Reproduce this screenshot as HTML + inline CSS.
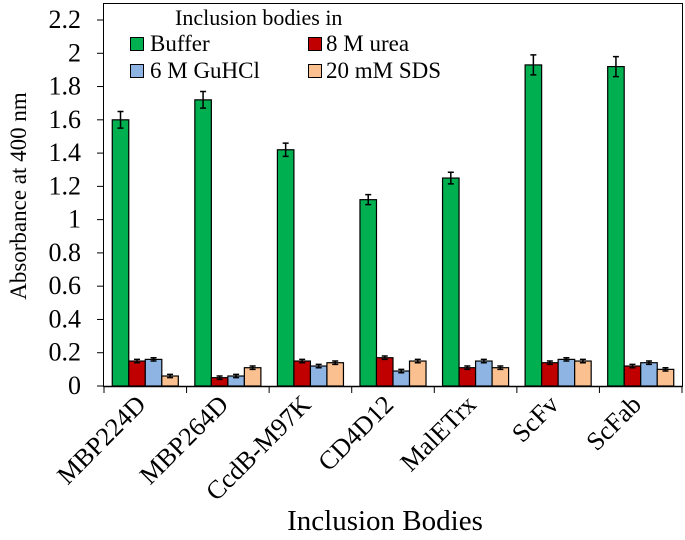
<!DOCTYPE html>
<html><head><meta charset="utf-8"><style>
body{margin:0;background:#fff}
svg text{font-family:"Liberation Serif",serif;fill:#000}
</style></head><body>
<svg id="chart" width="685" height="535" xmlns="http://www.w3.org/2000/svg">
<rect x="103.5" y="3.5" width="579" height="383" fill="none" stroke="#000" stroke-width="1"/>
<g id="bars"></g>
<g id="axes"></g>
<text transform="translate(26,196) rotate(-90)" text-anchor="middle" style="font-family:'Liberation Serif',serif;font-size:23px">Absorbance at 400 nm</text>
<text x="385" y="530" text-anchor="middle" style="font-family:'Liberation Serif',serif;font-size:29px">Inclusion Bodies</text>
<g style="font-family:'Liberation Serif',serif;font-size:23px">
<text x="175" y="25" style="font-family:'Liberation Serif',serif;font-size:22px">Inclusion bodies in</text>
<rect x="130.5" y="37.5" width="13" height="13" fill="#00b050" stroke="#000"/>
<text x="150" y="51" style="font-family:'Liberation Serif',serif;font-size:23px">Buffer</text>
<rect x="308.5" y="37.5" width="13" height="13" fill="#c00000" stroke="#000"/>
<text x="326" y="51" style="font-family:'Liberation Serif',serif;font-size:23px">8 M urea</text>
<rect x="130.5" y="64.5" width="13" height="13" fill="#8db4e2" stroke="#000"/>
<text x="150" y="78" style="font-family:'Liberation Serif',serif;font-size:23px">6 M GuHCl</text>
<rect x="308.5" y="64.5" width="13" height="13" fill="#fac090" stroke="#000"/>
<text x="326" y="78" style="font-family:'Liberation Serif',serif;font-size:23px">20 mM SDS</text>
</g>
</svg>
<script>
const categories=["MBP224D","MBP264D","CcdB-M97K","CD4D12","MalETrx","ScFv","ScFab"];
const buffer=[1.60,1.72,1.42,1.12,1.25,1.93,1.92];
const urea=[0.15,0.05,0.15,0.17,0.11,0.14,0.12];
const guhcl=[0.16,0.06,0.12,0.09,0.15,0.16,0.14];
const sds=[0.06,0.11,0.14,0.15,0.11,0.15,0.10];
const bufferErr=[0.05,0.05,0.04,0.03,0.035,0.06,0.06];
const smallErr=[0.01,0.01,0.01,0.01,0.01,0.01,0.01];
const yTicks=[0,0.2,0.4,0.6,0.8,1,1.2,1.4,1.6,1.8,2,2.2];
const yTickLabels=["0","0.2","0.4","0.6","0.8","1","1.2","1.4","1.6","1.8","2","2.2"];
const NS="http://www.w3.org/2000/svg";
const x0=104,x1=682,yb=386,yt=20,ymax=2.2;
const cw=(x1-x0)/categories.length;
const y=v=>yb-(v/ymax)*(yb-yt);
const xc=i=>x0+cw*(i+0.5);
const bars=document.getElementById('bars'),axes=document.getElementById('axes');
function mk(tag,attrs,parent){const e=document.createElementNS(NS,tag);for(const k in attrs)e.setAttribute(k,attrs[k]);parent.appendChild(e);return e;}
const series=[[buffer,"#00b050","buffer",bufferErr],[urea,"#c00000","urea",smallErr],[guhcl,"#8db4e2","guhcl",smallErr],[sds,"#fac090","sds",smallErr]];
const bw=cw*0.2;
categories.forEach((c,i)=>{
 series.forEach((s,j)=>{
  const v=s[0][i];const bx=x0+cw*0.1+j*bw+i*cw;
  const r=mk('rect',{x:bx,y:y(v),width:bw,height:yb-y(v),fill:s[1],stroke:'#000','stroke-width':1.2},bars);
  
  
  const e=s[3][i],cx=bx+bw/2;
  const l=mk('path',{d:`M${cx},${y(v+e)}V${y(v-e)}M${cx-3},${y(v+e)}H${cx+3}M${cx-3},${y(v-e)}H${cx+3}`,stroke:'#000','stroke-width':1.5,fill:'none'},bars);
  
  
 });
 const t=mk('text',{transform:`translate(${xc(i)+2},406) rotate(-45)`,'text-anchor':'end',style:"font-family:'Liberation Serif',serif;font-size:26px"},axes);
 t.textContent=c;
 
 
});
for(let i=0;i<=categories.length;i++){
 const tk=mk('line',{x1:x0+cw*i,x2:x0+cw*i,y1:yb,y2:yb+7,stroke:'#000'},axes);
 
 
}
mk('line',{x1:x0,x2:x1,y1:yb+0.5,y2:yb+0.5,stroke:'#000','stroke-width':1.5},axes);
yTicks.forEach((v,i)=>{
 const tk=mk('line',{x1:x0-7,x2:x0,y1:y(v),y2:y(v),stroke:'#000'},axes);
 
 
 const t=mk('text',{x:81,y:y(v)+8,'text-anchor':'end',style:"font-family:'Liberation Serif',serif;font-size:26px"},axes);
 t.textContent=yTickLabels[i];
 
 
});
</script>
</body></html>
